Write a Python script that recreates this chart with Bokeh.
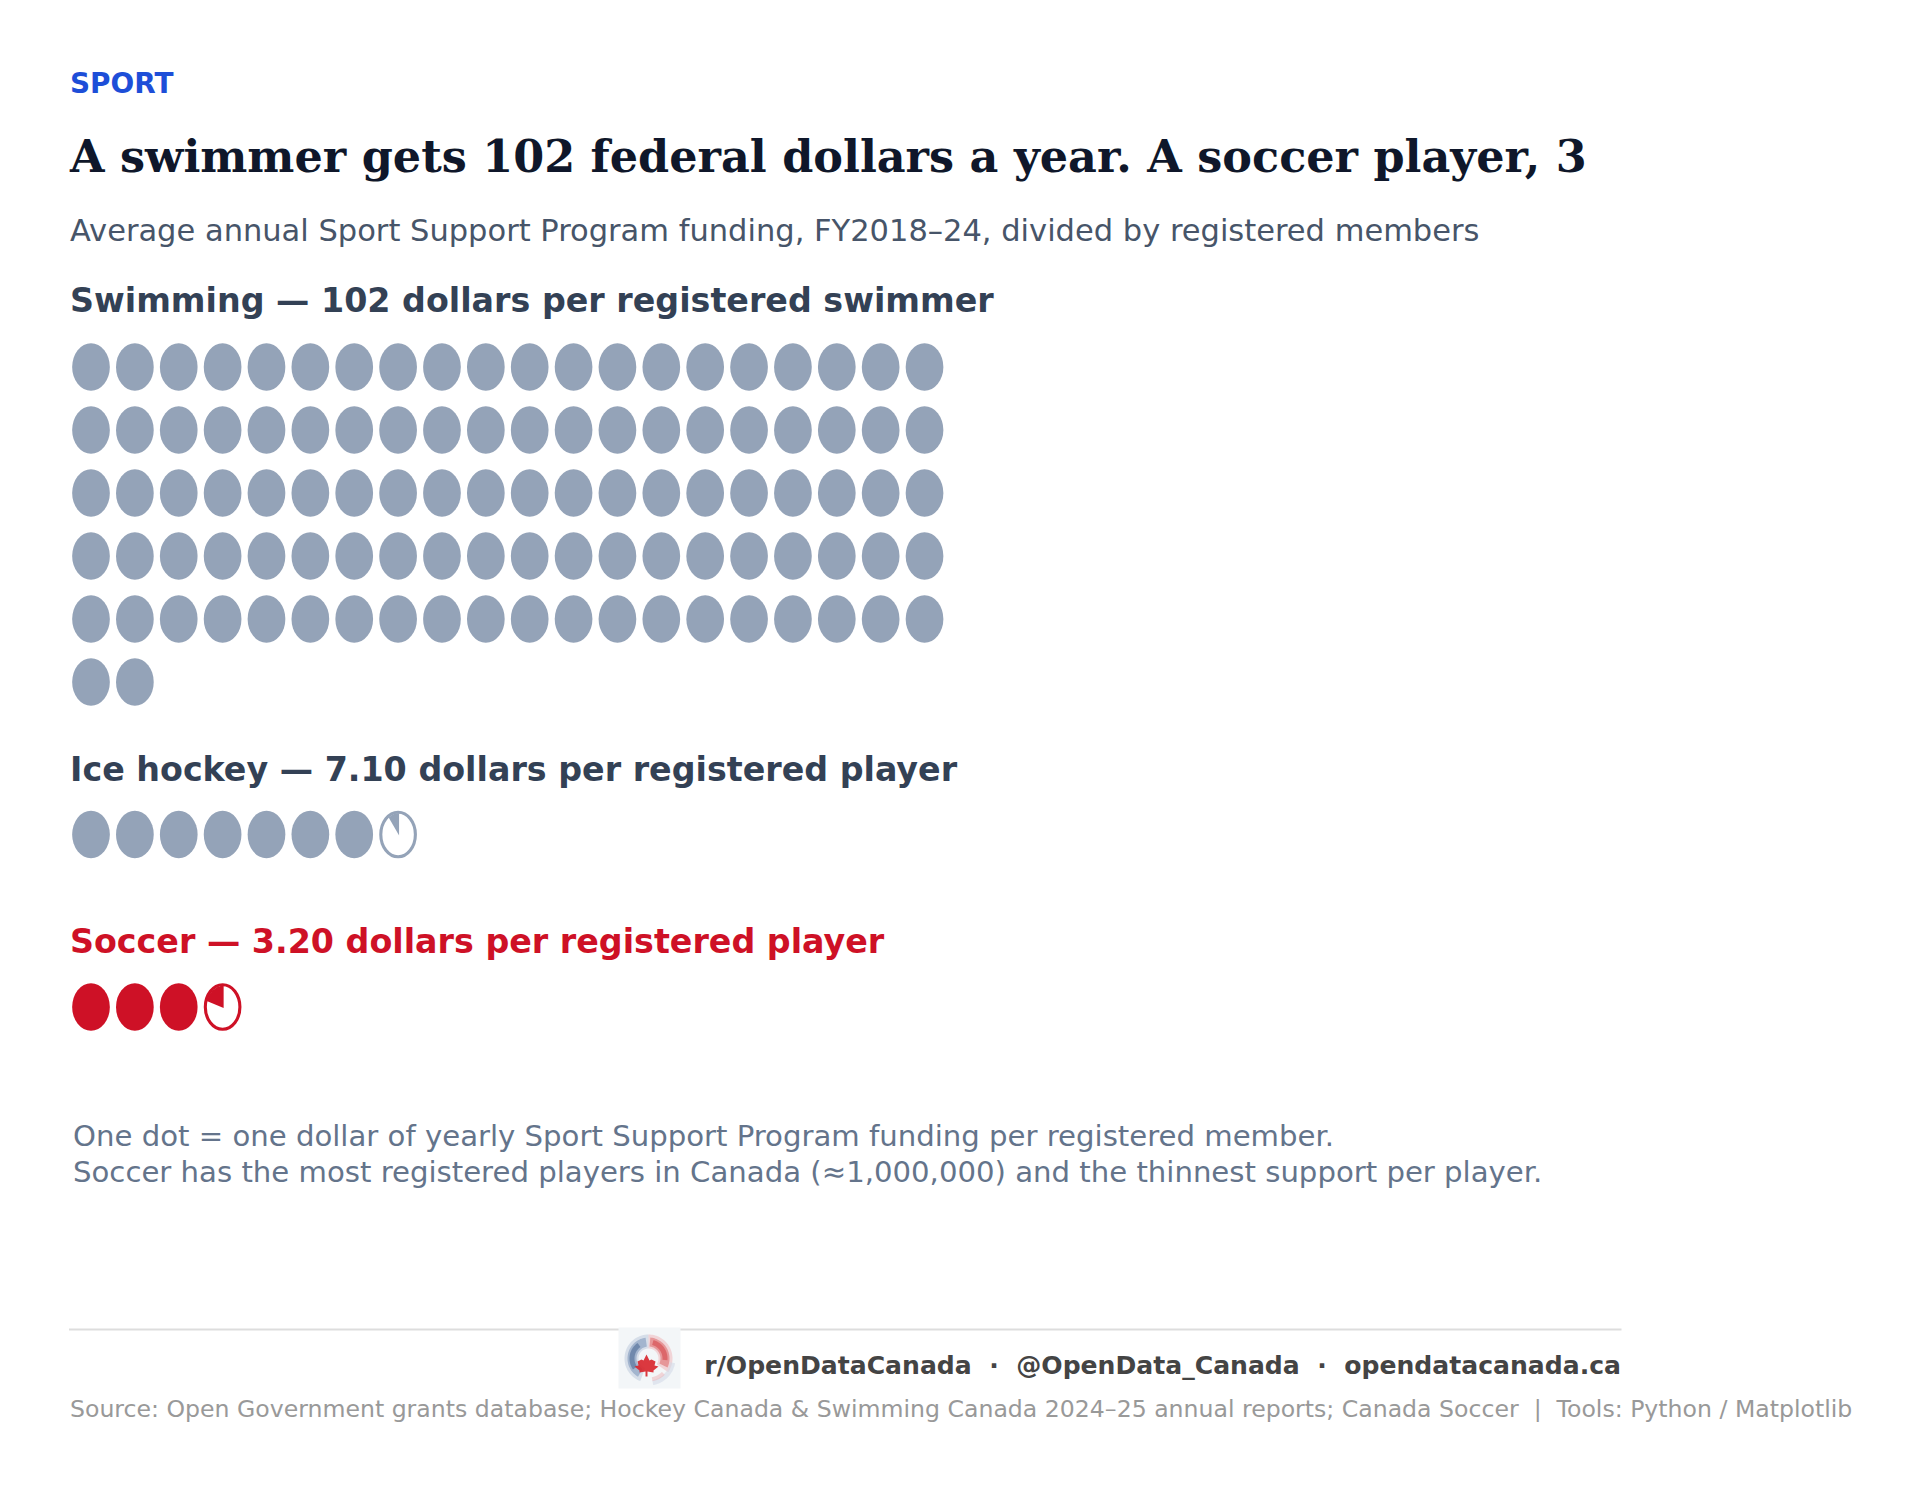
from bokeh.core.properties import value
from bokeh.embed import file_html
from bokeh.models import Range1d
from bokeh.plotting import figure
from bokeh.resources import INLINE
import numpy as np

# Data
sports = ["Swimming", "Ice hockey", "Soccer"]
dollars = [102, 7.10, 3.20]
headings = [
    "Swimming — 102 dollars per registered swimmer",
    "Ice hockey — 7.10 dollars per registered player",
    "Soccer — 3.20 dollars per registered player",
]
kicker = "SPORT"
title = "A swimmer gets 102 federal dollars a year. A soccer player, 3"
subtitle = "Average annual Sport Support Program funding, FY2018–24, divided by registered members"
notes = [
    "One dot = one dollar of yearly Sport Support Program funding per registered member.",
    "Soccer has the most registered players in Canada (≈1,000,000) and the thinnest support per player.",
]
footer = "r/OpenDataCanada \u00a0·\u00a0 @OpenData_Canada \u00a0·\u00a0 opendatacanada.ca"
source = "Source: Open Government grants database; Hockey Canada & Swimming Canada 2024–25 annual reports; Canada Soccer \u00a0|\u00a0 Tools: Python / Matplotlib"

# Layout, in page pixels
W, H = 1907, 1470
per_row = 20
x0, pitch_x, pitch_y = 90.5, 43.87, 63.0
group_y = [366.5, 834.0, 1006.5]
head_y = [310.7, 780, 952]
colors = ["#94a3b8", "#94a3b8", "#ce1126"]
head_colors = ["#334155", "#334155", "#ce1126"]

p = figure(width=W, height=H, x_range=Range1d(0, W), y_range=Range1d(H, 0),
           x_axis_location=None, y_axis_location=None, output_backend="svg",
           toolbar_location=None, min_border=0)
p.grid.visible = False
p.outline_line_color = None


def txt(x, y, s, size, color, font="DejaVu Sans", style="normal", align="left"):
    # the text glyph sits lower than its alphabetic baseline, so lift it
    p.text([x], [y - 0.32 * size], text=[s], text_font=value(font), text_font_size=f"{size}px",
           text_font_style=style, text_color=color, text_align=align, text_baseline="alphabetic")


txt(69.5, 91.7, kicker, 27.9, "#1d4ed8", style="bold")
txt(69.5, 170, title, 44.5, "#0f172a", font="DejaVu Serif", style="bold")
txt(69.5, 240, subtitle, 30.5, "#475569")

# Dots: one per whole dollar, a part-filled one for the cents
for i in range(len(sports)):
    whole = int(dollars[i])
    part = round(dollars[i] - whole, 2)
    xs = [x0 + pitch_x * (k % per_row) for k in range(whole)]
    ys = [group_y[i] + pitch_y * (k // per_row) for k in range(whole)]
    p.ellipse(xs, ys, width=37.7, height=47.7, fill_color=colors[i], line_color=None)
    txt(69.5, head_y[i], headings[i], 33.3, head_colors[i], style="bold")
    if part > 0:
        cx = x0 + pitch_x * whole
        cy = group_y[i]
        p.ellipse([cx], [cy], width=34.6, height=44.6, fill_color="white", line_color=colors[i], line_width=3.1)
        a = np.linspace(0, 2 * np.pi * part, 30)
        px = [cx + 1] + list(cx + 1 - 17.7 * np.sin(a))
        py = [cy + 1] + list(cy + 1 - 22.3 * np.cos(a))
        p.patch(px, py, fill_color=colors[i], line_color=None)

txt(72.5, 1145, notes[0], 29.16, "#64748b")
txt(72.5, 1180.7, notes[1], 29.16, "#64748b")

p.line([68.5, 1621], [1329, 1329], line_color="#dddddd", line_width=2)

# Logo badge
p.quad(left=[618], right=[680], top=[1327], bottom=[1388], fill_color="#f3f6f8", line_color=None)
lx, ly = 648, 1358


def ring(a0, a1, r0, r1, color, alpha):
    a = np.radians(np.linspace(a0, a1, 40))
    px = list(lx + r1 * np.sin(a)) + list(lx + r0 * np.sin(a[::-1]))
    py = list(ly - r1 * np.cos(a)) + list(ly - r0 * np.cos(a[::-1]))
    p.patch(px, py, fill_color=color, fill_alpha=alpha, line_color=None)


ring(200, 360, 10, 24, "#a9bbd2", 0.4)
ring(210, 352, 12, 21, "#6f8bb3", 0.5)
ring(235, 325, 14, 19, "#47658f", 0.55)
ring(0, 125, 10, 24, "#eea3a4", 0.4)
ring(5, 115, 12, 21, "#dc5a5c", 0.5)
ring(15, 95, 14, 19, "#d02c30", 0.45)
ring(100, 170, 22, 27, "#d3dbe7", 0.6)
ring(135, 170, 19, 23, "#eeb2b6", 0.5)
# maple leaf
leaf_x = [0, 3, 5, 9, 8, 12, 7, 7, 1, 1, -1, -1, -7, -7, -12, -8, -9, -5, -3]
leaf_y = [-11, -5, -6, -4, 0, 1, 5, 7, 6, 11, 11, 6, 7, 5, 1, 0, -4, -6, -5]
p.patch([646 + v for v in leaf_x], [1365 + v for v in leaf_y], fill_color="#d8232a", fill_alpha=0.9, line_color=None)

txt(1620.5, 1372.7, footer, 25.1, "#444444", style="bold", align="right")
txt(69.5, 1416, source, 23.6, "#999999")

open("out.html", "w").write(file_html(p, INLINE))
